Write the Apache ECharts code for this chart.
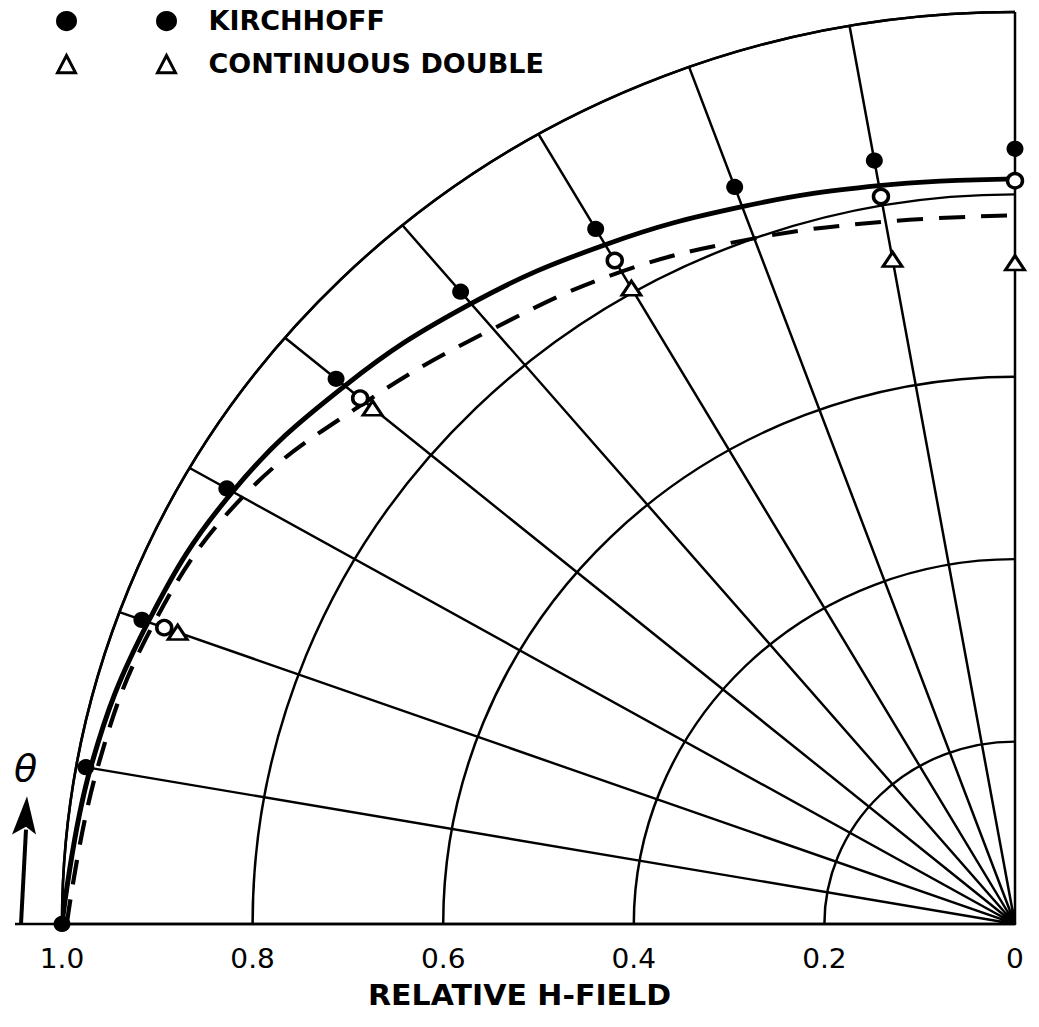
<!DOCTYPE html>
<html>
<head>
<meta charset="utf-8">
<script src="https://cdn.jsdelivr.net/npm/echarts@6/dist/echarts.min.js"></script>
<style>
html,body{margin:0;padding:0;background:#fff;overflow:hidden;}
/* the scanned original is slightly compressed vertically (circles appear as ellipses) */
#wrap{width:1039px;height:1027px;overflow:hidden;}
#chart{width:1039px;height:1073px;transform:scaleY(0.957);transform-origin:0 0;}
</style>
</head>
<body>
<div id="wrap"><div id="chart"></div></div>
<script>
// ---- data ----
const angles = [0, 10, 20, 30, 40, 50, 60, 70, 80, 90];            // theta, degrees
const kirchhoff = [1.0, 0.99, 0.975, 0.955, 0.93, 0.905, 0.88, 0.86, 0.85, 0.85];
const doubleAngles = [20, 40, 60, 80, 90];
const continuousDouble = [0.935, 0.88, 0.805, 0.74, 0.725];
const openAngles = [20, 40, 60, 80, 90];
const openCircles = [0.95, 0.897, 0.84, 0.81, 0.815];
const solidCurve = [1.0, 0.985, 0.968, 0.948, 0.918, 0.888, 0.86, 0.837, 0.822, 0.817];
const dashedCurve = [0.995, 0.978, 0.962, 0.936, 0.89, 0.852, 0.826, 0.80, 0.782, 0.777];
const radiusTicks = [0, 0.2, 0.4, 0.6, 0.8, 1.0];
const radiusTickLabels = ['0', '0.2', '0.4', '0.6', '0.8', '1.0'];

const FONT = "'DejaVu Sans', sans-serif";
const pair = (rs, ths) => rs.map((r, i) => [r, ths[i]]);

const chart = echarts.init(document.getElementById('chart'), null, {renderer: 'svg'});
const CX = 1015, CY = 965.5, R = 953;

const option = {
  backgroundColor: '#fff',
  animation: false,
  polar: { center: [CX, CY], radius: R },
  angleAxis: {
    type: 'value', min: 0, max: 90, interval: 10,
    startAngle: 180, endAngle: 90, clockwise: true,
    axisLine: { show: true, lineStyle: { color: '#000', width: 2.6 } },
    axisTick: { show: false }, axisLabel: { show: false },
    splitLine: { show: true, lineStyle: { color: '#000', width: 2.5 } }
  },
  radiusAxis: {
    type: 'value', min: 0, max: 1, interval: 0.2,
    axisLine: { show: true, lineStyle: { color: '#000', width: 2.6 } },
    axisTick: { show: false },
    axisLabel: {
      show: true, color: '#000', fontSize: 28, fontFamily: FONT, margin: 22,
      formatter: v => { const i = radiusTicks.findIndex(t => Math.abs(t - v) < 1e-6); return i >= 0 ? radiusTickLabels[i] : ''; }
    },
    splitLine: { show: true, lineStyle: { color: '#000', width: 2.5 } }
  },
  title: {
    text: 'RELATIVE H-FIELD', left: 'center', top: 1020,
    textStyle: { fontSize: 30, fontWeight: 'bold', fontFamily: FONT, color: '#000' }
  },
  legend: [
    {
      left: 56, top: 7, padding: 0, orient: 'vertical', itemGap: 15, itemWidth: 18, itemHeight: 18,
      data: ['KIRCHHOFF', 'CONTINUOUS DOUBLE'], formatter: () => ' ',
      itemStyle: { borderWidth: 3 }, selectedMode: false,
      textStyle: { fontSize: 27, lineHeight: 30, fontFamily: FONT, color: '#000' }
    },
    {
      left: 156, top: 7, padding: 0, orient: 'vertical', itemGap: 15, itemWidth: 18, itemHeight: 18,
      data: ['KIRCHHOFF', 'CONTINUOUS DOUBLE'],
      itemStyle: { borderWidth: 3 }, selectedMode: false,
      textStyle: { fontSize: 27, lineHeight: 30, fontWeight: 'bold', fontFamily: FONT, color: '#000', padding: [0, 0, 0, 28] }
    }
  ],
  graphic: [
    { type: 'line', shape: { x1: 15, y1: CY, x2: CX - R, y2: CY }, style: { stroke: '#000', lineWidth: 2.6 } },
    { type: 'line', shape: { x1: 21, y1: CY, x2: 26, y2: 867 }, style: { stroke: '#000', lineWidth: 4 } },
    { type: 'polygon', shape: { points: [[12, 872], [27, 832], [36, 872], [26, 864]] }, style: { fill: '#000' } },
    { type: 'text', x: 14, y: 784, style: { text: 'θ', font: "italic 38px 'DejaVu Sans'", fill: '#000' } }
  ],
  series: [
    {
      name: 'solid', type: 'line', coordinateSystem: 'polar', smooth: 0.4, showSymbol: false, z: 3,
      data: pair(solidCurve, angles), lineStyle: { color: '#000', width: 5 }
    },
    {
      name: 'dashed', type: 'line', coordinateSystem: 'polar', smooth: 0.4, showSymbol: false, z: 3,
      data: pair(dashedCurve, angles), lineStyle: { color: '#000', width: 4.2, type: [26, 16] }
    },
    {
      name: 'KIRCHHOFF', type: 'scatter', coordinateSystem: 'polar', symbol: 'circle', symbolSize: 17, z: 5,
      data: pair(kirchhoff, angles), itemStyle: { color: '#000', borderColor: '#000', borderWidth: 0, opacity: 1 }
    },
    {
      name: 'open', type: 'scatter', coordinateSystem: 'polar', symbol: 'circle', symbolSize: 15, z: 5,
      data: pair(openCircles, openAngles), itemStyle: { color: '#fff', borderColor: '#000', borderWidth: 3.5, opacity: 1 }
    },
    {
      name: 'CONTINUOUS DOUBLE', type: 'scatter', coordinateSystem: 'polar', symbol: 'triangle', symbolSize: [19, 15], z: 5,
      data: pair(continuousDouble, doubleAngles), itemStyle: { color: '#fff', borderColor: '#000', borderWidth: 3, opacity: 1 }
    }
  ]
};
chart.setOption(option);
</script>
</body>
</html>
